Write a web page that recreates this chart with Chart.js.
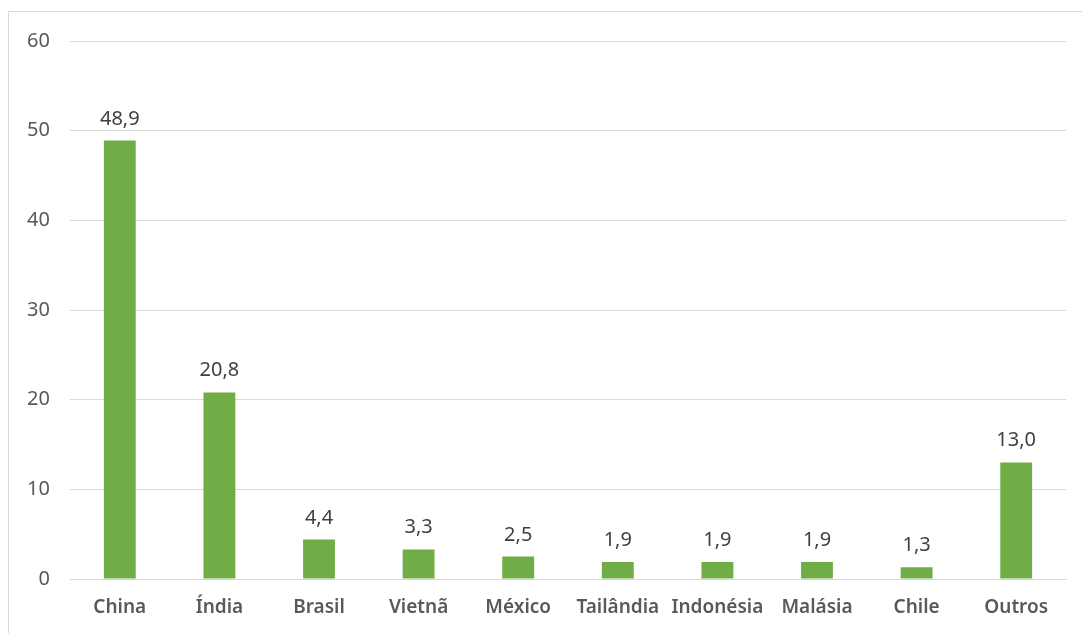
<!DOCTYPE html>
<html lang="pt">
<head>
    <meta charset="UTF-8">
    <title>Produção por país</title>
    <script src="https://cdn.jsdelivr.net/npm/chart.js"></script>
    <style>
        body {
            margin: 0;
            padding: 0;
            background-color: #fff;
            overflow: hidden;
        }

        .frame {
            position: absolute;
            left: 8px;
            top: 11px;
            width: 1200px;
            height: 800px;
            border: 1px solid #d9d9d9;
        }

        .chart-box {
            position: absolute;
            left: 0;
            top: 0;
            width: 1082px;
            height: 633px;
        }
    </style>
</head>
<body>
    <div class="frame"></div>
    <div class="chart-box">
        <canvas id="paisesChart"></canvas>
    </div>

    <script>
        // dados
        const paises = ['China', 'Índia', 'Brasil', 'Vietnã', 'México', 'Tailândia', 'Indonésia', 'Malásia', 'Chile', 'Outros'];
        const valores = [48.9, 20.8, 4.4, 3.3, 2.5, 1.9, 1.9, 1.9, 1.3, 13.0];
        const yTicks = [0, 10, 20, 30, 40, 50, 60];

        const fontFamily = '"Noto Sans", "Open Sans", sans-serif';

        // rótulos de valor acima das barras
        const valueLabels = {
            id: 'valueLabels',
            afterDatasetsDraw(chart) {
                const ctx = chart.ctx;
                const meta = chart.getDatasetMeta(0);
                ctx.save();
                ctx.font = '20px ' + fontFamily;
                ctx.fillStyle = '#404040';
                ctx.textAlign = 'center';
                ctx.textBaseline = 'alphabetic';
                meta.data.forEach((bar, i) => {
                    const txt = valores[i].toFixed(1).replace('.', ',');
                    ctx.fillText(txt, bar.x, bar.y - 16);
                });
                ctx.restore();
            }
        };

        new Chart(document.getElementById('paisesChart').getContext('2d'), {
            type: 'bar',
            data: {
                labels: paises,
                datasets: [{
                    data: valores,
                    backgroundColor: '#70ad47',
                    borderWidth: 0,
                    barPercentage: 0.32,
                    categoryPercentage: 1.0
                }]
            },
            options: {
                responsive: true,
                maintainAspectRatio: false,
                animation: false,
                layout: {
                    padding: { top: 41, right: 16, bottom: 0, left: 0 }
                },
                plugins: {
                    legend: { display: false },
                    tooltip: { enabled: false }
                },
                scales: {
                    x: {
                        grid: { display: false, drawTicks: false },
                        border: { color: '#d9d9d9', width: 1 },
                        ticks: {
                            color: '#595959',
                            padding: 17,
                            autoSkip: false,
                            maxRotation: 0,
                            font: { family: fontFamily, size: 19, weight: '600' }
                        },
                        afterFit(scale) { scale.height = 54; }
                    },
                    y: {
                        min: 0,
                        max: 60,
                        afterBuildTicks(scale) {
                            scale.ticks = yTicks.map(v => ({ value: v }));
                        },
                        grid: { color: '#d9d9d9', drawTicks: false },
                        border: { display: false },
                        ticks: {
                            color: '#595959',
                            padding: 20,
                            font: { family: fontFamily, size: 20 }
                        },
                        afterFit(scale) { scale.width = 70; }
                    }
                }
            },
            plugins: [valueLabels]
        });
    </script>
</body>
</html>
